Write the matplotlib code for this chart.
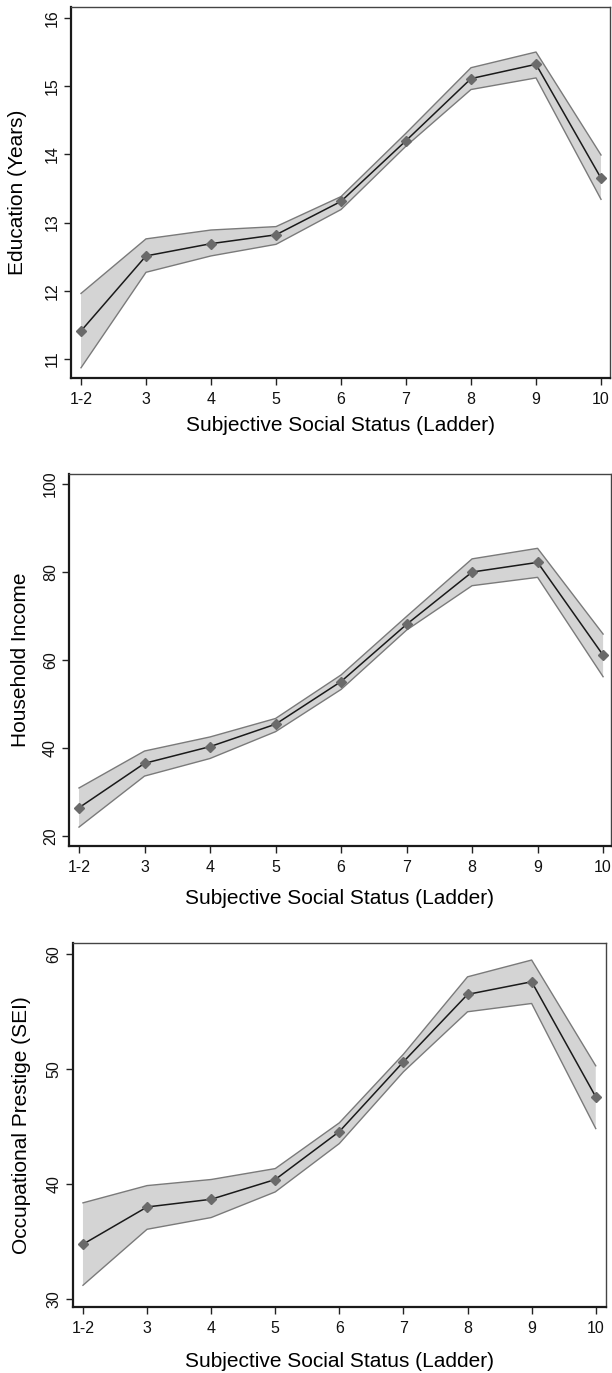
import matplotlib
matplotlib.use("Agg")
import matplotlib.pyplot as plt
import numpy as np

plt.rcParams['font.family'] = ['Liberation Sans', 'DejaVu Sans']

# ladder categories on the x axis
ladder = ["1-2", "3", "4", "5", "6", "7", "8", "9", "10"]

# education (years): mean and 95% band
edu_mean = [11.41, 12.51, 12.69, 12.82, 13.31, 14.20, 15.11, 15.32, 13.65]
edu_upper = [11.96, 12.76, 12.89, 12.94, 13.38, 14.31, 15.27, 15.50, 13.99]
edu_lower = [10.87, 12.27, 12.51, 12.68, 13.19, 14.12, 14.95, 15.12, 13.34]

# household income
inc_mean = [26.4, 36.5, 40.3, 45.4, 55.1, 68.1, 80.0, 82.2, 61.1]
inc_upper = [30.9, 39.3, 42.5, 46.7, 56.6, 69.9, 83.0, 85.4, 65.9]
inc_lower = [22.0, 33.6, 37.6, 43.7, 53.3, 66.8, 76.9, 78.8, 56.2]

# occupational prestige (SEI)
sei_mean = [34.76, 38.00, 38.67, 40.39, 44.56, 50.63, 56.49, 57.59, 47.58]
sei_upper = [38.36, 39.86, 40.39, 41.34, 45.32, 51.29, 58.02, 59.48, 50.28]
sei_lower = [31.19, 36.06, 37.08, 39.31, 43.52, 49.76, 54.98, 55.70, 44.82]

fig = plt.figure(figsize=(6.12, 13.73), dpi=100)

panels = [
    # rect, xlim, ylim, yticks, ylabel, ylabel x, xlabel y, data
    ([0.1160, 0.72469, 0.8807, 0.27021], (-0.154, 8.138), (10.72, 16.16),
     [11, 12, 13, 14, 15, 16], "Education (Years)", -0.100, -0.127,
     (edu_mean, edu_lower, edu_upper)),
    ([0.1127, 0.38383, 0.8856, 0.27094], (-0.153, 8.12), (17.7, 102.3),
     [20, 40, 60, 80, 100], "Household Income", -0.0886, -0.140,
     (inc_mean, inc_lower, inc_upper)),
    ([0.1188, 0.04807, 0.8714, 0.2651], (-0.16, 8.16), (29.3, 60.96),
     [30, 40, 50, 60], "Occupational Prestige (SEI)", -0.0951, -0.151,
     (sei_mean, sei_lower, sei_upper)),
]

x = np.arange(len(ladder))

for rect, xl, yl, yt, ylab, ylx, xly, (mean, lo, hi) in panels:
    ax = fig.add_axes(rect)
    ax.fill_between(x, lo, hi, facecolor="#d4d4d4", edgecolor="none", zorder=1)
    ax.plot(x, lo, color="#7a7a7a", lw=1.0, zorder=2)
    ax.plot(x, hi, color="#7a7a7a", lw=1.0, zorder=2)
    ax.plot(x, mean, color="#1a1a1a", lw=1.1, zorder=3)
    ax.plot(x, mean, ls="none", marker="D", ms=5, color="#6a6a6a", zorder=4)

    ax.set_xlim(*xl)
    ax.set_ylim(*yl)
    ax.set_xticks(x)
    ax.set_xticklabels(ladder)
    ax.set_yticks(yt)
    ax.tick_params(axis="both", direction="out", length=5, width=1.0,
                   labelsize=11.5, color="#222222", labelcolor="#111111")
    ax.tick_params(axis="x", pad=5)
    ax.tick_params(axis="y", pad=3)
    for lab in ax.get_yticklabels():
        lab.set_rotation(90)
        lab.set_va("center")

    for side in ["left", "bottom"]:
        ax.spines[side].set_linewidth(1.6)
        ax.spines[side].set_color("#1a1a1a")
    for side in ["top", "right"]:
        ax.spines[side].set_linewidth(1.0)
        ax.spines[side].set_color("#444444")

    ax.set_xlabel("Subjective Social Status (Ladder)", fontsize=15)
    ax.set_ylabel(ylab, fontsize=15)
    ax.xaxis.set_label_coords(0.5, xly)
    ax.xaxis.label.set_va("center")
    ax.yaxis.set_label_coords(ylx, 0.5)
    ax.yaxis.label.set_va("center")

fig.savefig("out.png", dpi=100)
